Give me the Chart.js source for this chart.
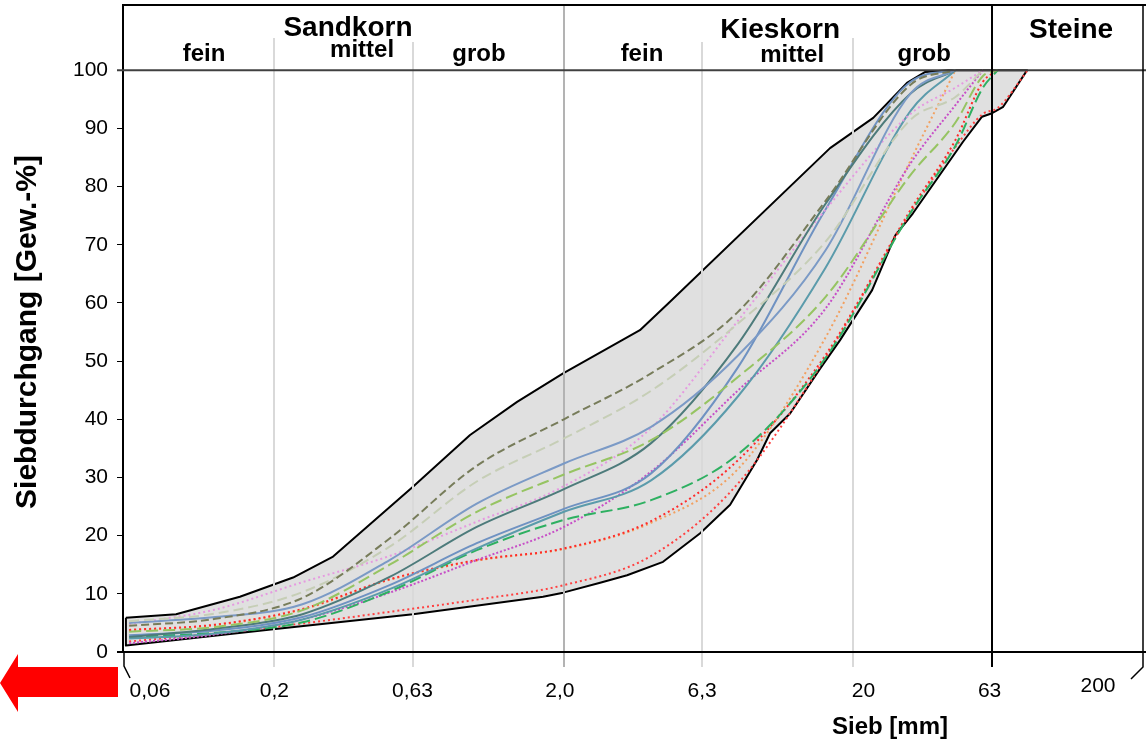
<!DOCTYPE html>
<html>
<head>
<meta charset="utf-8">
<script src="https://cdn.jsdelivr.net/npm/chart.js@4.4.1/dist/chart.umd.min.js"></script>
<style>
  html, body { margin: 0; padding: 0; background: #fff; }
  #wrap { width: 1146px; height: 741px; }
</style>
</head>
<body>
<div id="wrap"><canvas id="myChart"></canvas></div>
<script>
// sieve sizes [mm] used by the single curves
const sieveMm = [0.063, 0.125, 0.25, 0.5, 1, 2, 4, 8, 16, 31.5, 45, 56, 63, 80];

// passing [%] per sample
const passA = [4.5, 5.7, 9.3, 19.5, 32, 40, 47.9, 58.5, 77.5, 97.5, 100];
const passB = [5.3, 6.6, 10.3, 18.1, 29.3, 36.7, 44.9, 56.5, 70.5, 91.5, 95.4, 100];
const passC = [5.0, 6.0, 8.2, 15.8, 25.5, 32.4, 38.7, 51, 69, 96, 100];
const passD = [3.5, 4.3, 7.2, 15.0, 24.1, 30.5, 36.4, 47.3, 61, 82, 91, 99, 100];
const passE = [2.6, 4.0, 6.5, 12.9, 21.5, 28, 35.9, 53, 77, 96, 100];
const passF = [4.8, 7.3, 12, 16.5, 22.4, 28.5, 38.5, 57, 76, 92.5, 97, 100];
const passG = [2.9, 3.7, 6.0, 11.5, 18.7, 24.6, 30.7, 49, 76, 98, 100];
const passH = [2.3, 3.2, 5.6, 10.8, 17.8, 24.1, 29.5, 44, 66, 93, 100];
const passI = [2.6, 3.3, 5.1, 10.4, 17.5, 22.7, 26.1, 34, 50.5, 75.5, 87, 97, 100];
const passJ = [1.5, 3.0, 5.6, 10.2, 15.8, 21.5, 31, 45, 59, 84, 94, 100];
const passK = [3.8, 4.7, 7.4, 12.5, 15.8, 17.8, 22.5, 33, 51, 76, 88, 98, 100];
const passL = [1.8, 3.2, 4.9, 6.9, 9.0, 11.5, 16.5, 29, 50.5, 75.5, 86.8, 92.5, 93.5, 100];
const passM = [3.7, 4.6, 7.3, 12.4, 15.7, 17.7, 22.2, 31.5, 54, 84.5, 100];

// envelope of the grading band
const upperMm = [0.0614, 0.0915, 0.152, 0.232, 0.319, 0.602, 0.948, 1.378, 1.987, 3.66, 4.65, 16.6, 23.4, 30.6, 35.4, 42.5];
const upperPass = [5.9, 6.5, 9.5, 12.8, 16.4, 28.4, 37.3, 43, 47.9, 55.3, 60.2, 86.6, 91.8, 97.8, 99.7, 100];
const lowerMm = [0.0614, 0.198, 0.602, 1.694, 1.987, 2.667, 3.305, 4.40, 5.91, 7.50, 9.29, 10.3, 12.08, 15.34, 17.98, 23.2, 27.9, 32.1, 47.8, 55.6, 60.2, 65.8, 79.6];
const lowerPass = [1.1, 3.9, 6.5, 9.5, 10.2, 11.9, 13.2, 15.5, 20.4, 25.3, 33, 37.6, 41, 48.7, 53.6, 62.2, 71.6, 75.4, 87.7, 92, 92.6, 93.7, 100];

// axis ticks
const tickValues = [0.06, 0.2, 0.6, 2, 6, 20, 60, 200];
const tickLabels = ["0,06", "0,2", "0,63", "2,0", "6,3", "20", "63", "200"];
const yTicks = [0, 10, 20, 30, 40, 50, 60, 70, 80, 90, 100];
const Y_MAX = 111.2;

const FONT = "'Liberation Sans', Arial, Helvetica, sans-serif";

const curveStyles = [
  { pass: passA, color: "#777c5a", dash: [8, 4] },
  { pass: passB, color: "#c6ceb6", dash: [10, 5] },
  { pass: passC, color: "#7b9ac6", dash: [] },
  { pass: passD, color: "#96c462", dash: [12, 5] },
  { pass: passE, color: "#4d7b7b", dash: [] },
  { pass: passF, color: "#e59ae0", dash: [2, 3] },
  { pass: passG, color: "#6f92c2", dash: [] },
  { pass: passH, color: "#5b9bab", dash: [] },
  { pass: passI, color: "#2eb061", dash: [12, 5] },
  { pass: passJ, color: "#c74fc7", dash: [2, 2] },
  { pass: passK, color: "#ff2a2a", dash: [2, 3] },
  { pass: passL, color: "#ff4040", dash: [2, 3] },
  { pass: passM, color: "#f2a060", dash: [2, 3] },
];

// stop each curve where it reaches 100 %
const curvePoints = (pass) => {
  const pts = [];
  for (let i = 0; i < pass.length; i++) {
    pts.push({ x: sieveMm[i], y: pass[i] });
    if (pass[i] >= 100) break;
  }
  return pts;
};

const bandPoints = upperMm
  .map((x, i) => ({ x, y: upperPass[i] }))
  .concat(lowerMm.map((x, i) => ({ x, y: lowerPass[i] })).reverse());
bandPoints.push(bandPoints[0]);

const datasets = [
  {
    data: bandPoints,
    showLine: true,
    fill: "shape",
    backgroundColor: "#e0e0e0",
    borderColor: "#000",
    borderWidth: 2,
    borderJoinStyle: "round",
    pointRadius: 0,
    tension: 0,
    order: 99,
  },
].concat(
  curveStyles.map((c, i) => ({
    data: curvePoints(c.pass),
    showLine: true,
    fill: false,
    borderColor: c.color,
    borderWidth: 2,
    borderDash: c.dash,
    pointRadius: 0,
    cubicInterpolationMode: "monotone",
    // orange one sits under the red ones
    order: c.pass === passM ? 50 : i + 1,
  }))
);

//frame, grid, texts and the arrow
const gridStyle = [
  { idx: 1, top: 38, color: "#d9d9d9" },
  { idx: 2, top: 42, color: "#d9d9d9" },
  { idx: 3, top: 5, color: "#b3b3b3" },
  { idx: 4, top: 42, color: "#d9d9d9" },
  { idx: 5, top: 38, color: "#d9d9d9" },
];
const labelShift = [27, 0, 0, -4, 0, 10, -2, -45];

const headers = [
  { text: "Sandkorn", x: 0.359, y: 28, size: 28 },
  { text: "Kieskorn", x: 11.16, y: 30, size: 28 },
  { text: "Steine", x: 112.9, y: 30, size: 28 },
  { text: "fein", x: 0.1143, y: 54, size: 24 },
  { text: "mittel", x: 0.4016, y: 50, size: 24 },
  { text: "grob", x: 1.018, y: 54, size: 24 },
  { text: "fein", x: 3.72, y: 54, size: 24 },
  { text: "mittel", x: 12.28, y: 55, size: 24 },
  { text: "grob", x: 35.1, y: 54, size: 24 },
];

const line = (ctx, pts, color, width) => {
  ctx.strokeStyle = color;
  ctx.lineWidth = width;
  ctx.beginPath();
  ctx.moveTo(pts[0][0], pts[0][1]);
  for (let i = 1; i < pts.length; i++) ctx.lineTo(pts[i][0], pts[i][1]);
  ctx.stroke();
};

const sieveFrame = {
  id: "sieveFrame",
  afterDatasetDraw(chart, args) {
    if (args.index !== 0) return;
    const { ctx, chartArea } = chart;
    const xs = chart.scales.x;
    ctx.save();
    gridStyle.forEach((g) => {
      const px = Math.round(xs.getPixelForValue(tickValues[g.idx]));
      line(ctx, [[px, g.top], [px, chartArea.bottom + 15]], g.color, 2);
    });
    ctx.restore();
  },
  afterDraw(chart) {
    const { ctx, chartArea, width } = chart;
    const xs = chart.scales.x;
    const ys = chart.scales.y;
    const { left, right, top, bottom } = chartArea;
    ctx.save();

    const y100 = ys.getPixelForValue(100);
    line(ctx, [[left - 6, y100], [width, y100]], "#404040", 2);
    line(ctx, [[left - 6, bottom], [width, bottom]], "#000", 2);
    line(ctx, [[left, top], [width, top]], "#000", 2);
    const x63 = Math.round(xs.getPixelForValue(tickValues[6]));
    line(ctx, [[x63, top], [x63, bottom + 15]], "#000", 2);
    line(ctx, [[right, top], [right, bottom + 15], [right - 12, bottom + 27]], "#000", 1.5);
    line(ctx, [[left + 1, bottom], [left + 1, bottom + 14], [left + 7, bottom + 26]], "#000", 1.5);

    ctx.fillStyle = "#000";
    ctx.textBaseline = "middle";
    ctx.font = "21px " + FONT;
    ctx.textAlign = "right";
    yTicks.forEach((v) => {
      ctx.fillText(String(v), left - 15, ys.getPixelForValue(v));
    });

    ctx.textAlign = "center";
    tickValues.forEach((v, i) => {
      const px = xs.getPixelForValue(v) + labelShift[i];
      ctx.fillText(tickLabels[i], px, i === 7 ? 686 : 691);
    });

    headers.forEach((h) => {
      ctx.font = "bold " + h.size + "px " + FONT;
      ctx.fillText(h.text, xs.getPixelForValue(h.x), h.y);
    });

    ctx.font = "bold 24px " + FONT;
    ctx.fillText("Sieb [mm]", 890, 727);

    ctx.save();
    ctx.translate(28, 332);
    ctx.rotate(-Math.PI / 2);
    ctx.font = "bold 30px " + FONT;
    ctx.fillText("Siebdurchgang [Gew.-%]", 0, 0);
    ctx.restore();

    // red arrow
    ctx.fillStyle = "#ff0000";
    ctx.beginPath();
    ctx.moveTo(0, 683);
    ctx.lineTo(18, 654);
    ctx.lineTo(18, 667);
    ctx.lineTo(118, 667);
    ctx.lineTo(118, 697);
    ctx.lineTo(18, 697);
    ctx.lineTo(18, 712);
    ctx.closePath();
    ctx.fill();

    ctx.restore();
  },
};

const ctx = document.querySelector("#myChart").getContext("2d");

const myChart = new Chart(ctx, {
  type: "scatter",
  data: { datasets },
  plugins: [sieveFrame],
  options: {
    responsive: true,
    maintainAspectRatio: false,
    animation: false,
    layout: { padding: { top: 5, right: 3, left: 0, bottom: 0 } },
    plugins: {
      legend: { display: false },
      tooltip: { enabled: false },
    },
    scales: {
      x: {
        type: "logarithmic",
        min: 0.06,
        max: 200,
        ticks: { display: false },
        grid: { display: false },
        border: { color: "#000", width: 2 },
        afterFit: (s) => {
          s.height = 89;
        },
      },
      y: {
        type: "linear",
        min: 0,
        max: Y_MAX,
        afterBuildTicks: (s) => {
          s.ticks = yTicks.map((v) => ({ value: v }));
        },
        ticks: { display: false },
        grid: {
          drawOnChartArea: false,
          tickLength: 6,
          tickColor: "#000",
          color: "#000",
        },
        border: { color: "#000", width: 2 },
        afterFit: (s) => {
          s.width = 123;
        },
      },
    },
  },
});
</script>
</body>
</html>
